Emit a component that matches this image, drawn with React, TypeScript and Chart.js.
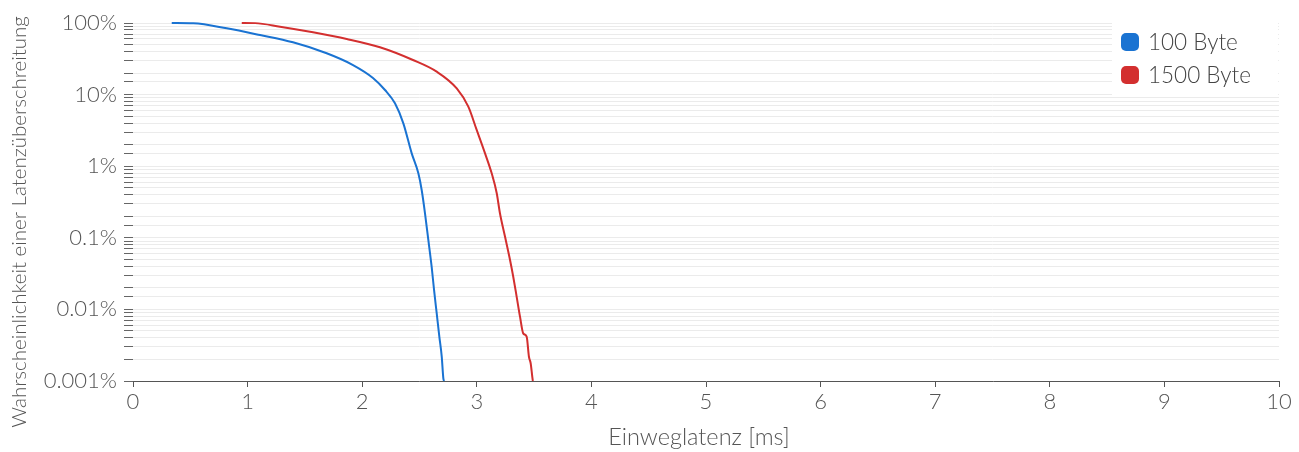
import { useEffect, useRef } from 'react';
import { Chart, registerables } from 'chart.js';

Chart.register(...registerables);

const seriesLabels = ['100 Byte', '1500 Byte'];
const seriesColors = ['#1a73d2', '#d32f2f'];

const blueLatency = [0.338, 0.526, 0.818, 1.109, 1.396, 1.690, 1.920, 2.094, 2.199, 2.286, 2.359, 2.432, 2.490, 2.519, 2.548, 2.577, 2.606, 2.627, 2.650, 2.673, 2.694, 2.708, 2.714];
const blueProb = [100, 99.0, 84.3, 67.9, 53.7, 37.8, 25.9, 17.1, 11.6, 7.56, 3.97, 1.51, 0.795, 0.465, 0.220, 0.0933, 0.0395, 0.0187, 0.00884, 0.00417, 0.00219, 0.00109, 0.001];

const redLatency = [0.949, 1.065, 1.283, 1.571, 1.865, 2.155, 2.443, 2.650, 2.825, 2.926, 2.999, 3.072, 3.130, 3.174, 3.202, 3.246, 3.290, 3.318, 3.348, 3.377, 3.405, 3.435, 3.455, 3.470, 3.488, 3.490];
const redProb = [100, 99.6, 88.8, 74.1, 59.8, 45.8, 30.4, 20.9, 12.2, 6.78, 3.21, 1.51, 0.795, 0.419, 0.220, 0.104, 0.0490, 0.0286, 0.0150, 0.00791, 0.00463, 0.00416, 0.00218, 0.00177, 0.00103, 0.001];

const yTickLabels = ['0.001%', '0.01%', '0.1%', '1%', '10%', '100%'];
const yMinExp = -3;
const xAxisTitle = 'Einweglatenz [ms]';
const yAxisTitle = 'Wahrscheinlichkeit einer Latenzüberschreitung';

const FONT = 'Lato';
const TEXT = '#555';

const toPoints = (xs: number[], ys: number[]) => xs.map((x, i) => ({ x, y: ys[i] }));

const overlayPlugin = {
  id: 'overlay',
  afterDraw(chart: any) {
    const ctx = chart.ctx as CanvasRenderingContext2D;
    const area = chart.chartArea;
    ctx.save();
    // legend
    const boxX = area.right - 167;
    const boxY = area.top - 1;
    ctx.fillStyle = '#ffffff';
    ctx.fillRect(boxX, boxY, 166, 75);
    ctx.font = `300 22.5px ${FONT}`;
    ctx.textBaseline = 'middle';
    ctx.textAlign = 'left';
    seriesLabels.forEach((label, i) => {
      const cy = boxY + 20 + i * 33;
      ctx.fillStyle = seriesColors[i];
      ctx.beginPath();
      (ctx as any).roundRect(boxX + 9, cy - 9, 18, 18, 5);
      ctx.fill();
      ctx.fillStyle = '#444';
      ctx.fillText(label, boxX + 36, cy + 1);
    });
    // x title
    ctx.textAlign = 'center';
    ctx.textBaseline = 'middle';
    ctx.font = `300 23.5px ${FONT}`;
    ctx.fillStyle = TEXT;
    ctx.fillText(xAxisTitle, 699, 437);
    // y title
    ctx.translate(19, 222);
    ctx.rotate(-Math.PI / 2);
    ctx.font = `300 20.5px ${FONT}`;
    ctx.fillText(yAxisTitle, 0, 0);
    ctx.restore();
  },
};

export default function App() {
  const ref = useRef<HTMLCanvasElement>(null);
  useEffect(() => {
    const common = {
      borderWidth: 2,
      pointRadius: 0,
      cubicInterpolationMode: 'monotone' as const,
      clip: false as any,
    };
    const chart = new Chart(ref.current as HTMLCanvasElement, {
      type: 'line',
      data: {
        datasets: [
          {
            ...common,
            label: seriesLabels[0],
            data: toPoints(blueLatency, blueProb),
            borderColor: seriesColors[0],
            backgroundColor: seriesColors[0],
          },
          {
            ...common,
            label: seriesLabels[1],
            data: toPoints(redLatency, redProb),
            borderColor: seriesColors[1],
            backgroundColor: seriesColors[1],
          },
        ],
      },
      options: {
        responsive: false,
        animation: false,
        layout: { padding: { top: 23, right: 20, left: 0, bottom: 0 } },
        plugins: {
          legend: { display: false },
          tooltip: { enabled: false },
        },
        scales: {
          x: {
            type: 'linear',
            min: 0,
            max: 10,
            afterFit: (s: any) => { s.height = 71; },
            ticks: {
              stepSize: 1,
              padding: 2,
              color: TEXT,
              font: { family: FONT, size: 22, weight: '300' as any },
            },
            grid: { drawOnChartArea: false, tickLength: 6, tickColor: '#555', color: '#555' },
            border: { display: true, color: '#555', width: 1 },
            title: { display: false },
          },
          y: {
            type: 'logarithmic',
            min: 0.001,
            max: 100,
            afterFit: (s: any) => { s.width = 133; },
            ticks: {
              autoSkip: false,
              padding: 7,
              color: TEXT,
              font: { family: FONT, size: 22, weight: '300' as any },
              callback: (v: any) => {
                const e = Math.log10(Number(v));
                const r = Math.round(e);
                if (Math.abs(e - r) < 1e-6) return yTickLabels[r - yMinExp] ?? '';
                return '';
              },
            },
            grid: {
              tickLength: 9,
              tickColor: '#666',
              color: (c: any) => (c.tick && Math.abs(c.tick.value - 0.001) < 1e-9 ? 'rgba(0,0,0,0)' : '#ebebeb'),
              lineWidth: 1,
            },
            border: { display: false },
          },
        },
      },
      plugins: [overlayPlugin],
    });
    return () => chart.destroy();
  }, []);
  return (
    <div style={{ position: 'fixed', left: 0, top: 0, width: 1299, height: 452, background: '#fff' }}>
      <canvas ref={ref} width={1299} height={452} style={{ display: 'block' }} />
    </div>
  );
}
